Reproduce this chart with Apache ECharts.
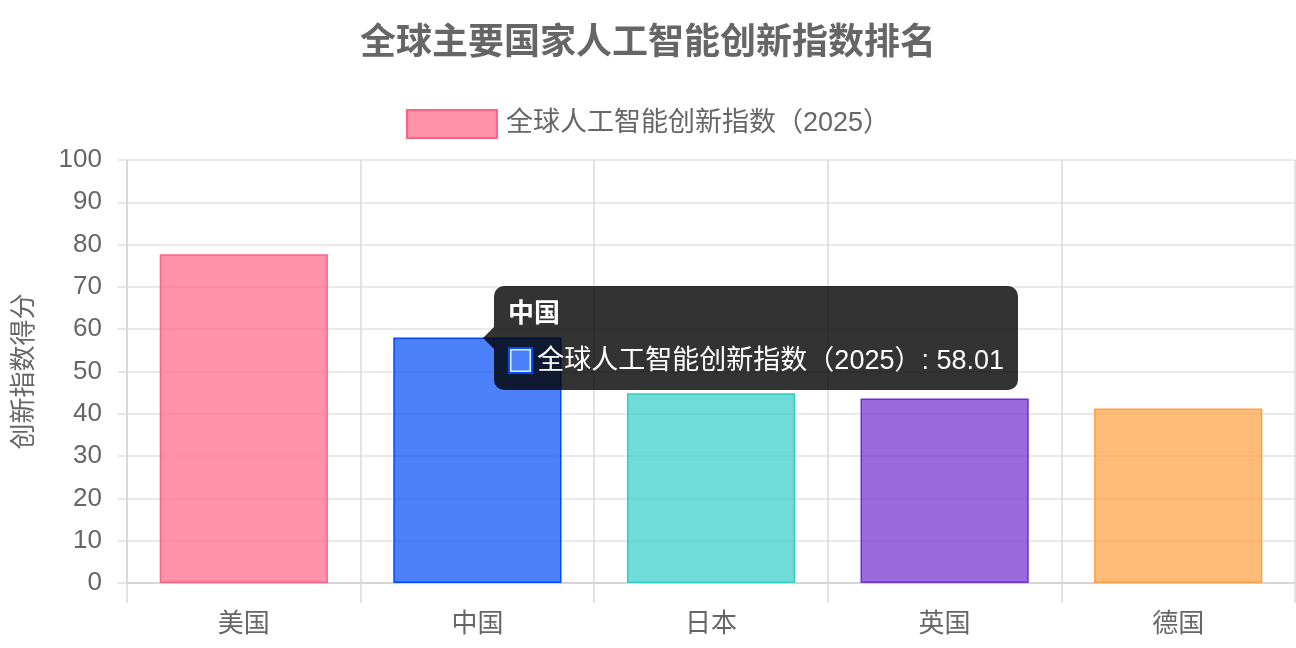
<!DOCTYPE html>
<html><head><meta charset="utf-8">
<script src="https://cdn.jsdelivr.net/npm/echarts@6/dist/echarts.min.js"></script>
<style>html,body{margin:0;padding:0;background:#fff}#c{width:1296px;height:648px}</style>
</head><body><div id="c"></div>
<script>
const titleText = '全球主要国家人工智能创新指数排名';
const seriesName = '全球人工智能创新指数（2025）';
const yAxisName = '创新指数得分';
const categories = ['美国', '中国', '日本', '英国', '德国'];
const values = [77.74, 58.01, 44.87, 43.62, 41.23];
const fillColors = ['rgba(255,99,132,0.7)', 'rgba(0,75,250,0.7)', 'rgba(50,205,198,0.7)', 'rgba(112,44,208,0.7)', 'rgba(255,159,64,0.7)'];
const borderColors = ['rgb(255,99,132)', 'rgb(0,75,250)', 'rgb(50,205,198)', 'rgb(112,44,208)', 'rgb(255,159,64)'];
const tipIndex = 1;

const FONT = '"Liberation Sans", Arial, "Noto Sans CJK SC", sans-serif';
const chart = echarts.init(document.getElementById('c'), null, {renderer: 'canvas'});
const option = {
  animation: false,
  textStyle: {fontFamily: FONT},
  title: {
    text: titleText, left: 'center', top: 21,
    textStyle: {fontSize: 36, fontWeight: 'bold', color: '#666', fontFamily: FONT}
  },
  legend: {
    top: 104, left: 'center', itemWidth: 90, itemHeight: 28, itemGap: 10,
    icon: 'rect',
    textStyle: {fontSize: 27, color: '#666', fontFamily: FONT, padding: [0, 0, 0, 4]}
  },
  grid: {left: 127, right: 1, top: 160, bottom: 65, containLabel: false, outerBoundsMode: 'none'},
  tooltip: {
    trigger: 'item',
    alwaysShowContent: true,
    triggerOn: 'none',
    backgroundColor: 'transparent',
    borderWidth: 0,
    padding: 0,
    extraCssText: 'box-shadow:none;',
    transitionDuration: 0,
    formatter: function (p) {
      const i = p.dataIndex;
      return '<div style="position:relative;width:496px;background:rgba(0,0,0,0.8);border-radius:10px;padding:11px 14px 14px 14px;font-family:' + FONT.replace(/"/g, "'") + ';color:#fff;white-space:nowrap;">' +
        '<div style="position:absolute;left:-11px;top:41px;width:0;height:0;border-top:11px solid transparent;border-bottom:11px solid transparent;border-right:11px solid rgba(0,0,0,0.8);"></div>' +
        '<div style="font-size:26px;font-weight:bold;line-height:32px;margin-bottom:15px;">' + categories[i] + '</div>' +
        '<div style="font-size:27px;line-height:32px;display:flex;align-items:center;">' +
        '<span style="display:inline-block;width:27px;height:27px;box-sizing:border-box;background-color:#fff;background-image:linear-gradient(' + fillColors[i] + ',' + fillColors[i] + ');border:2px solid ' + borderColors[i] + ';box-shadow:inset 0 0 0 1.5px rgba(255,255,255,0.85);margin-right:4px;"></span>' +
        seriesName + ': ' + values[i].toFixed(2) + '</div></div>';
    },
    position: function (point, params, dom, rect, size) {
      const px = chart.convertToPixel({xAxisIndex: 0, yAxisIndex: 0}, [categories[params.dataIndex], values[params.dataIndex]]);
      return [px[0] + 17, px[1] - size.contentSize[1] / 2];
    }
  },
  xAxis: {
    type: 'category', data: categories,
    axisLine: {show: true, lineStyle: {color: '#cfcfcf', width: 1.5}},
    axisTick: {show: true, length: 20, alignWithLabel: false, lineStyle: {color: '#dadada', width: 1.5}},
    splitLine: {show: true, lineStyle: {color: '#dadada', width: 1.5}},
    axisLabel: {fontSize: 26, color: '#666', margin: 29, fontFamily: FONT}
  },
  yAxis: {
    type: 'value', min: 0, max: 100, interval: 10,
    name: yAxisName, nameLocation: 'middle', nameGap: 89, nameRotate: 90,
    nameTextStyle: {fontSize: 26, color: '#666', fontFamily: FONT},
    axisLine: {show: true, lineStyle: {color: '#d6d6d6', width: 1.5}},
    axisTick: {show: true, length: 9, lineStyle: {color: '#e0e0e0', width: 1.5}},
    splitLine: {show: true, lineStyle: {color: '#e3e3e3', width: 1.5}},
    axisLabel: {fontSize: 26, color: '#666', margin: 25, fontFamily: FONT}
  },
  series: [{
    name: seriesName, type: 'bar', barWidth: '72%',
    itemStyle: {color: fillColors[0], borderColor: borderColors[0], borderWidth: 1.5},
    data: values.map((v, i) => ({
      value: v,
      itemStyle: {color: fillColors[i], borderColor: borderColors[i], borderWidth: 1.5}
    }))
  }]
};
chart.setOption(option);
chart.dispatchAction({type: 'showTip', seriesIndex: 0, dataIndex: tipIndex});
</script></body></html>
